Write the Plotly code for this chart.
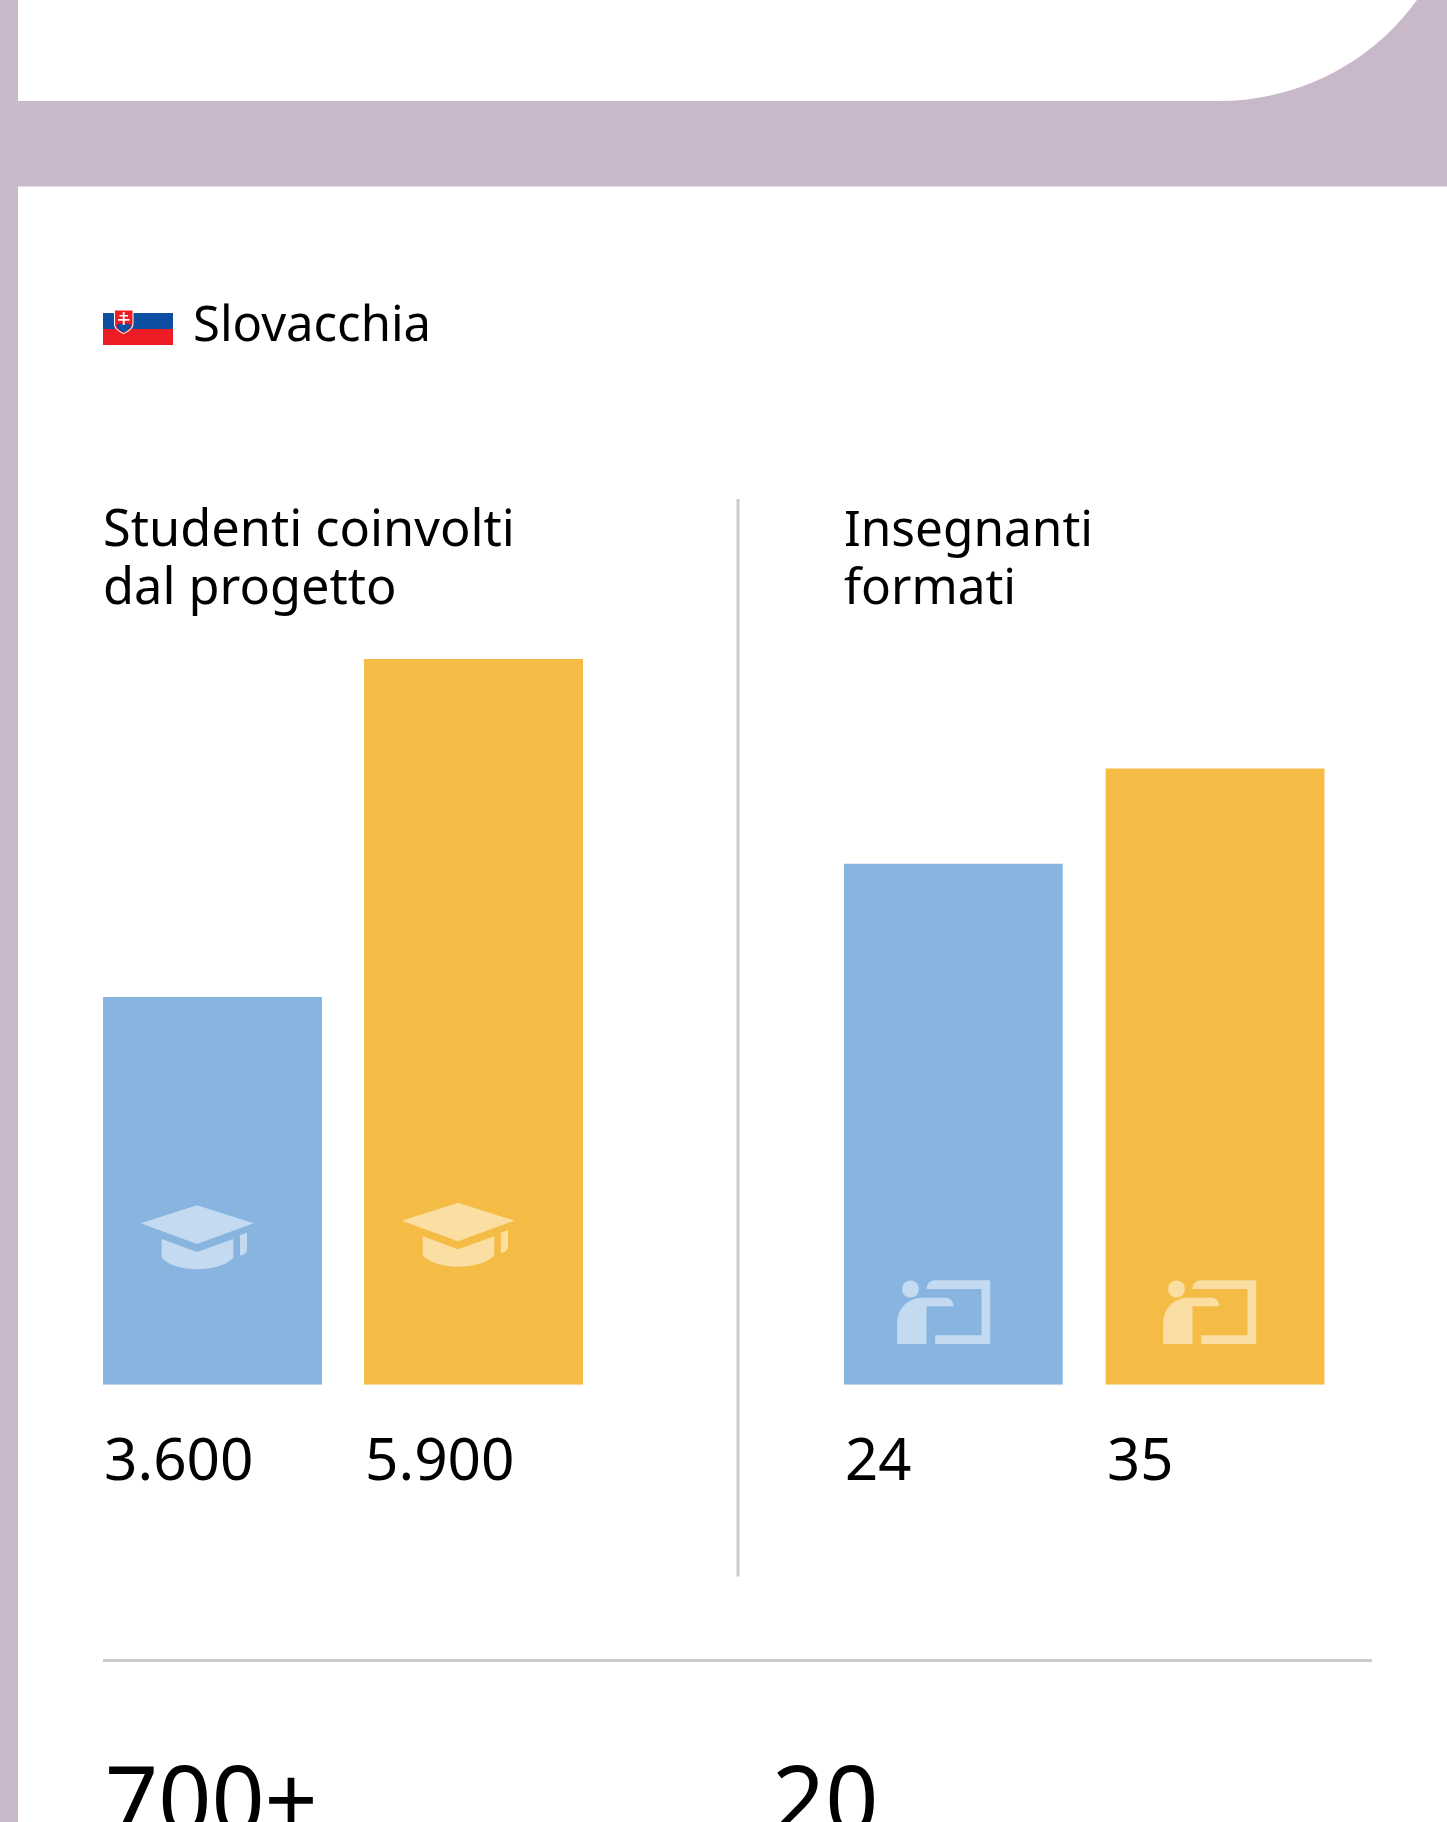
import plotly.graph_objects as go

W, H = 1447, 1822

# ---- data ----
country = "Slovacchia"
student_title = ["Studenti coinvolti", "dal progetto"]
teacher_title = ["Insegnanti", "formati"]
student_values = [3600, 5900]
teacher_values = [24, 35]
student_labels = ["3.600", "5.900"]
teacher_labels = ["24", "35"]
bottom_labels = ["700+", "20"]
series_colors = ["#87B5E0", "#F4BC45"]

# the reference's bars do not start from zero: axis floor and ceiling
student_floor, student_ceiling = 962, 5900
teacher_floor, teacher_ceiling = -36, 47.6

LAV = "#C9B7CA"
GREY = "#CCCCCC"
FONT = "Noto Sans"


def fx(p):
    return p / W


def fy(p):
    return 1 - p / H


def path(cmds):
    out = []
    for c in cmds:
        letter, pts = c[0], c[1:]
        out.append(letter + " " + " ".join(f"{fx(x):.5f},{fy(y):.5f}" for x, y in pts))
    return " ".join(out) + " Z"


shapes = []


def rect(x0, y0, x1, y1, color, layer="below"):
    shapes.append(dict(type="rect", xref="paper", yref="paper", x0=fx(x0), x1=fx(x1), y0=fy(y1), y1=fy(y0),
                       fillcolor=color, line_width=0, layer=layer))


def poly(cmds, color, opacity=1, layer="above"):
    shapes.append(dict(type="path", xref="paper", yref="paper", path=path(cmds), fillcolor=color,
                       opacity=opacity, line_width=0, layer=layer))


# page frame
rect(0, 0, W, 186.5, LAV)
rect(0, 0, 18, H, LAV)
poly([("M", (18, 0)), ("L", (18, 101)), ("L", (1218, 101)),
      ("C", (1296, 101), (1370, 65), (1417, 0))], "#FFFFFF", layer="below")

# dividers
rect(736.5, 499, 739.5, 1576.5, GREY)
rect(103, 1659, 1372, 1662, GREY)

# flag
rect(103, 313, 173, 329, "#0B4EA2")
rect(103, 329, 173, 345, "#EE1C25")
poly([("M", (114, 309.5)), ("L", (133.5, 309.5)), ("L", (133.5, 324)),
      ("C", (133.5, 329), (128, 332), (123.7, 334)), ("C", (119, 332), (114, 329), (114, 324))], "#FFFFFF")
poly([("M", (115, 310.5)), ("L", (132.5, 310.5)), ("L", (132.5, 324)),
      ("C", (132.5, 328), (128, 331), (123.7, 333)), ("C", (119, 331), (115, 328), (115, 324))], "#EE1C25")
poly([("M", (116.5, 326)), ("C", (118, 323), (121, 323), (123.7, 325)), ("C", (126, 323), (130, 323), (131, 326)),
      ("C", (130, 329), (127, 331), (123.7, 332.5)), ("C", (120, 331), (118, 329), (116.5, 326))], "#0B4EA2")
rect(122.8, 312, 124.6, 325, "#FFFFFF", "above")
rect(119.5, 315, 128, 316.5, "#FFFFFF", "above")
rect(118, 319, 129.5, 320.7, "#FFFFFF", "above")


# icons, at translucent white over the bars
def cap(dx, dy):
    def p(x, y):
        return (100 + x / 3 + dx, 1170 + y / 3 + dy)
    poly([("M", p(122, 160)), ("L", p(291, 106)), ("L", p(461, 160)), ("L", p(291, 222))], "#FFFFFF", 0.5)
    poly([("M", p(185, 207)), ("L", p(291, 246)), ("L", p(400, 207)), ("L", p(400, 262)),
          ("C", p(385, 285), p(335, 298), p(291, 298)), ("C", p(250, 298), p(200, 285), p(185, 262))], "#FFFFFF", 0.5)
    poly([("M", p(420, 196)), ("L", p(441, 188)), ("L", p(441, 238)),
          ("C", p(441, 250), p(430, 256), p(420, 256))], "#FFFFFF", 0.5)


def teacher(dx, dy):
    def p(x, y):
        return (860 + x / 3 + dx, 1240 + y / 3 + dy)
    poly([("M", p(128, 147)), ("C", p(128, 113), p(178, 113), p(178, 147)),
          ("C", p(178, 181), p(128, 181), p(128, 147))], "#FFFFFF", 0.5)
    poly([("M", p(113, 312)), ("L", p(113, 250)), ("C", p(113, 205), p(145, 173), p(190, 173)),
          ("L", p(258, 173)), ("C", p(272, 173), p(282, 185), p(282, 199)), ("L", p(201, 199)), ("L", p(201, 312))],
         "#FFFFFF", 0.5)
    poly([("M", p(201, 147)), ("C", p(201, 132), p(212, 121), p(226, 121)), ("L", p(392, 121)), ("L", p(392, 312)),
          ("L", p(227, 312)), ("L", p(227, 286)), ("L", p(366, 286)), ("L", p(366, 147))], "#FFFFFF", 0.5)


cap(0, 0)
cap(261, -2.7)
teacher(-0.5, 0)
teacher(265.5, 0)

# text: y is the baseline in page pixels
annotations = []


def text(s, x, baseline, size):
    # Noto Sans box: middle sits (1.069 - 0.293) / 2 em above the baseline
    mid = baseline - 0.388 * size
    annotations.append(dict(text=s, xref="paper", yref="paper", x=fx(x), y=fy(mid), xanchor="left", yanchor="middle",
                            showarrow=False, align="left", font=dict(family=FONT, size=size, color="#000000"),
                            borderpad=0, borderwidth=0))


text(country, 193, 341, 49)
for line, b in zip(student_title, [546, 604]):
    text(line, 103, b, 50.5)
for line, b in zip(teacher_title, [546, 604]):
    text(line, 844, b, 49.5)
for lab, x in zip(student_labels, [104, 365]):
    text(lab, x, 1480, 58.5)
for lab, x in zip(teacher_labels, [845, 1107]):
    text(lab, x, 1480, 58)
for lab, x in zip(bottom_labels, [104, 771]):
    annotations.append(dict(text=lab, xref="paper", yref="paper", x=fx(x), y=fy(1733), xanchor="left", yanchor="top",
                            showarrow=False, font=dict(family=FONT, size=93, color="#000000"), borderpad=0))

fig = go.Figure()
fig.add_trace(go.Bar(x=[0, 1], y=[v - student_floor for v in student_values], base=student_floor,
                     width=219 / 261, marker=dict(color=series_colors, line_width=0),
                     xaxis="x", yaxis="y", showlegend=False, hoverinfo="skip"))
fig.add_trace(go.Bar(x=[0, 1], y=[v - teacher_floor for v in teacher_values], base=teacher_floor,
                     width=219 / 262, marker=dict(color=series_colors, line_width=0),
                     xaxis="x2", yaxis="y2", showlegend=False, hoverinfo="skip"))

half1 = 219 / 261 / 2
half2 = 219 / 262 / 2
dom_y = [fy(1384.7), fy(659)]
hidden = dict(visible=False, fixedrange=True)
fig.update_layout(
    width=W, height=H, margin=dict(l=0, r=0, t=0, b=0, pad=0, autoexpand=False),
    paper_bgcolor="#FFFFFF", plot_bgcolor="rgba(0,0,0,0)", showlegend=False,
    xaxis=dict(domain=[fx(103), fx(583)], range=[-half1, 1 + half1], **hidden),
    yaxis=dict(domain=dom_y, range=[student_floor, student_ceiling], **hidden),
    xaxis2=dict(domain=[fx(843.7), fx(1324.7)], range=[-half2, 1 + half2], **hidden),
    yaxis2=dict(domain=dom_y, range=[teacher_floor, teacher_ceiling], anchor="x2", **hidden),
    shapes=shapes, annotations=annotations,
)
fig.write_html("out.html", config=dict(displayModeBar=False),
               post_script="document.body.style.margin='0';document.body.style.overflow='hidden';")
